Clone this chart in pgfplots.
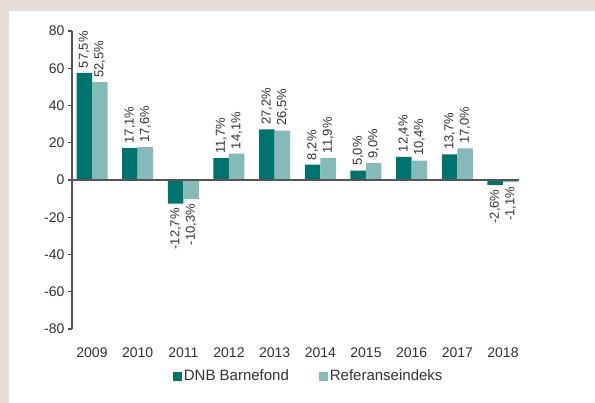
\documentclass[border=0pt]{standalone}
\usepackage{pgfplots}
\pgfplotsset{compat=1.18}
\usepackage{pgfplotstable}
\usepackage{fontspec}
\setmainfont{Liberation Sans}
\definecolor{bgbeige}{RGB}{229,221,214}
\definecolor{darkteal}{RGB}{0,115,108}
\definecolor{lightteal}{RGB}{133,186,184}
\definecolor{txt}{RGB}{51,51,51}
\definecolor{axcol}{RGB}{85,85,85}

\pgfplotstableread{
x y lab
0 57.5 57,5
1 17.1 17,1
2 -12.7 -12,7
3 11.7 11,7
4 27.2 27,2
5 8.2 8,2
6 5.0 5,0
7 12.4 12,4
8 13.7 13,7
9 -2.6 -2,6
}\dnbdata
\pgfplotstableread{
x y lab
0 52.5 52,5
1 17.6 17,6
2 -10.3 -10,3
3 14.1 14,1
4 26.5 26,5
5 11.9 11,9
6 9.0 9,0
7 10.4 10,4
8 17.0 17,0
9 -1.1 -1,1
}\refdata

\pgfplotsset{
  lbl/.style={
    point meta=explicit symbolic,
    nodes near coords={\pgfplotspointmeta\%},
    visualization depends on={y \as \rawy},
    every node near coord/.append style={rotate=90,
      anchor={\ifdim\rawy pt<0pt east\else west\fi},
      font=\fontsize{13bp}{15bp}\selectfont, text=txt, inner sep=4.5bp},
  }
}

\begin{document}
\begin{tikzpicture}
\fill[bgbeige] (0,0) rectangle (595bp,403bp);
\fill[white] (9bp,0) rectangle (595bp,392bp);
\path[use as bounding box] (0,0) rectangle (595bp,403bp);
\begin{axis}[
  at={(72bp,74bp)}, anchor=south west,
  scale only axis, width=446.5bp, height=298bp,
  xmin=-0.438, xmax=9.34, ymin=-80, ymax=80,
  ybar=0pt, bar width=15.5bp,
  axis lines=left, axis line style={-, axcol, line width=1.1bp},
  x axis line style={draw=none},
  xtick={0,1,2,3,4,5,6,7,8,9},
  xticklabels={2009,2010,2011,2012,2013,2014,2015,2016,2017,2018},
  xtick style={draw=none},
  ytick={-80,-60,-40,-20,0,20,40,60,80},
  yticklabels={-80,-60,-40,-20,0,20,40,60,80},
  ytick style={axcol, line width=1.1bp},
  tick align=outside, major tick length=4bp,
  ticklabel style={font=\fontsize{14bp}{16bp}\selectfont, text=txt},
  xticklabel style={anchor=center, yshift=-20bp},
  yticklabel style={anchor=east},
  clip=false,
  legend columns=2,
  legend style={at={(0.53,-0.158)}, anchor=center, draw=none, fill=none,
    font=\fontsize{15bp}{17bp}\selectfont, text=txt,
    /tikz/every even column/.append style={column sep=28bp}},
]
\addplot[draw=none, fill=darkteal, lbl, legend image code/.code={\fill[darkteal] (0bp,-4.5bp) rectangle (9bp,4.5bp);}] table[x=x,y=y,meta=lab] {\dnbdata};
\addplot[draw=none, fill=lightteal, lbl, legend image code/.code={\fill[lightteal] (0bp,-4.5bp) rectangle (9bp,4.5bp);}] table[x=x,y=y,meta=lab] {\refdata};
\draw[axcol, line width=1.1bp] (axis cs:-0.438,0) -- (axis cs:9.34,0);
\legend{DNB Barnefond, Referanseindeks}
\end{axis}
\end{tikzpicture}
\end{document}
